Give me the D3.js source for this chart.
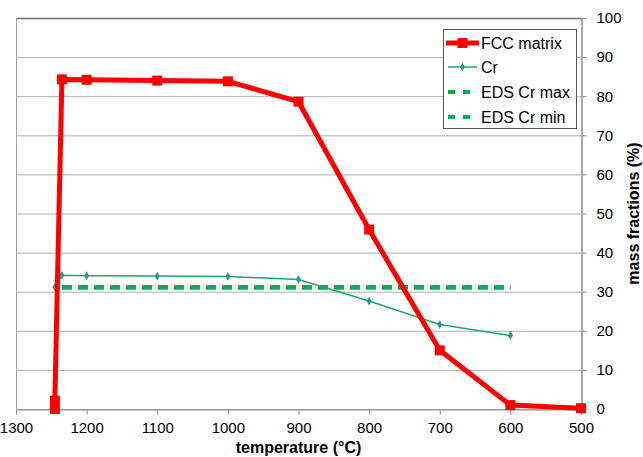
<!DOCTYPE html>
<html>
<head>
<meta charset="utf-8">
<script src="https://cdn.jsdelivr.net/npm/d3@7"></script>
<style>
  body { margin: 0; background: #fff; }
  svg { display: block; font-family: "Liberation Sans", Arial, sans-serif; }
</style>
</head>
<body>
<div id="chart"></div>
<script>
// data
const fccTemps = [1245, 1245, 1235, 1200, 1100, 1000, 900, 800, 700, 600, 500];
const fccValues = [0, 2.1, 84.3, 84.2, 84.0, 83.8, 78.6, 45.9, 15.0, 1.0, 0.2];

const crTemps = [1245, 1235, 1200, 1100, 1000, 900, 800, 700, 600];
const crValues = [31.2, 34.2, 34.1, 34.0, 33.9, 33.1, 27.6, 21.6, 18.8];

const edsTemps = [1235, 600];
const edsMax = [31.2, 31.2];
const edsMin = [31.0, 31.0];

const xTicks = [1300, 1200, 1100, 1000, 900, 800, 700, 600, 500];
const yTicks = [0, 10, 20, 30, 40, 50, 60, 70, 80, 90, 100];

const legendLabels = ['FCC matrix', 'Cr', 'EDS Cr max', 'EDS Cr min'];

const W = 643, H = 457;
const margin = { top: 18, right: 62, bottom: 48, left: 16 };
const width = W - margin.left - margin.right;
const height = H - margin.top - margin.bottom;

const svg = d3.select('#chart').append('svg')
    .attr('width', W)
    .attr('height', H);

const g = svg.append('g')
    .attr('transform', `translate(${margin.left},${margin.top})`);

const x = d3.scaleLinear().domain([1300, 500]).range([0, width]);
const y = d3.scaleLinear().domain([0, 100]).range([height, 0]);

// gridlines
g.append('g')
    .selectAll('line')
    .data(yTicks)
    .join('line')
    .attr('x1', 0)
    .attr('x2', width)
    .attr('y1', d => y(d) + 0.5)
    .attr('y2', d => y(d) + 0.5)
    .attr('stroke', d => d === 100 ? '#6e6e6e' : '#b0b0b0')
    .attr('stroke-width', d => d === 100 ? 1.5 : 1);

// left border
g.append('line')
    .attr('x1', 0.5).attr('x2', 0.5)
    .attr('y1', 0).attr('y2', height)
    .attr('stroke', '#a0a0a0');

// x axis
const xAxis = g.append('g')
    .attr('transform', `translate(0,${height + 0.5})`)
    .call(d3.axisBottom(x).tickValues(xTicks).tickFormat(d3.format('d'))
        .tickSize(5).tickSizeOuter(0).tickPadding(8));
xAxis.select('.domain').attr('stroke', '#8c8c8c');
xAxis.selectAll('.tick line').attr('stroke', '#8c8c8c');
xAxis.selectAll('.tick text')
    .attr('fill', '#000')
    .style('font-size', '15px');

g.append('text')
    .attr('x', width / 2)
    .attr('y', height + 44)
    .attr('text-anchor', 'middle')
    .style('font-size', '16px')
    .style('font-weight', 'bold')
    .text('temperature (°C)');

// right y axis
const yAxis = g.append('g')
    .attr('transform', `translate(${width + 0.5},0)`)
    .call(d3.axisRight(y).tickValues(yTicks).tickSize(5).tickSizeOuter(0).tickPadding(10));
yAxis.select('.domain').attr('stroke', '#8c8c8c').attr('stroke-width', 1.5);
yAxis.selectAll('.tick line').attr('stroke', '#8c8c8c');
yAxis.selectAll('.tick text')
    .attr('fill', '#000')
    .style('font-size', '15px');

g.append('text')
    .attr('transform', 'rotate(-90)')
    .attr('x', -height / 2)
    .attr('y', width + 58)
    .attr('text-anchor', 'middle')
    .style('font-size', '16px')
    .style('font-weight', 'bold')
    .text('mass fractions (%)');

// EDS dashed lines
const edsLine = d3.line()
    .x((d, i) => x(edsTemps[i]))
    .y(d => y(d));

[edsMax, edsMin].forEach(vals => {
    g.append('path')
        .datum(vals)
        .attr('fill', 'none')
        .attr('stroke', '#00b050')
        .attr('stroke-width', 4)
        .attr('stroke-dasharray', '10,6')
        .attr('d', edsLine);
});

// Cr line
const crLine = d3.line()
    .x((d, i) => x(crTemps[i]))
    .y(d => y(d));

g.append('path')
    .datum(crValues)
    .attr('fill', 'none')
    .attr('stroke', '#1fa66a')
    .attr('stroke-width', 1.5)
    .attr('d', crLine);

const diamond = d3.symbol().type(d3.symbolDiamond).size(22);
g.selectAll('.cr-pt')
    .data(crValues)
    .join('path')
    .attr('class', 'cr-pt')
    .attr('transform', (d, i) => `translate(${x(crTemps[i])},${y(d)})`)
    .attr('d', diamond)
    .attr('fill', '#2a9a8a');

// FCC matrix line
const fccLine = d3.line()
    .x((d, i) => x(fccTemps[i]))
    .y(d => y(d));

g.append('path')
    .datum(fccValues)
    .attr('fill', 'none')
    .attr('stroke', '#ff0000')
    .attr('stroke-width', 5)
    .attr('stroke-linejoin', 'round')
    .attr('d', fccLine);

g.selectAll('.fcc-pt')
    .data(fccValues)
    .join('rect')
    .attr('class', 'fcc-pt')
    .attr('x', (d, i) => x(fccTemps[i]) - 5)
    .attr('y', d => y(d) - 5)
    .attr('width', 10)
    .attr('height', 10)
    .attr('fill', '#ff0000');

// legend
const legend = svg.append('g').attr('transform', 'translate(443,29)');
legend.append('rect')
    .attr('x', 0.5).attr('y', 0.5)
    .attr('width', 133).attr('height', 99)
    .attr('fill', '#fff')
    .attr('stroke', '#555')
    .attr('stroke-width', 1);

const rowY = [14, 38, 63, 88];
legendLabels.forEach((label, i) => {
    const row = legend.append('g').attr('transform', `translate(0,${rowY[i]})`);
    if (i === 0) {
        row.append('line').attr('x1', 3).attr('x2', 36).attr('y1', 0).attr('y2', 0)
            .attr('stroke', '#ff0000').attr('stroke-width', 5);
        row.append('rect').attr('x', 14.5).attr('y', -5).attr('width', 10).attr('height', 10)
            .attr('fill', '#ff0000');
    } else if (i === 1) {
        row.append('line').attr('x1', 5).attr('x2', 34).attr('y1', 0).attr('y2', 0)
            .attr('stroke', '#1fa66a').attr('stroke-width', 1.5);
        row.append('path').attr('transform', 'translate(19.5,0)').attr('d', diamond)
            .attr('fill', '#2a9a8a');
    } else {
        row.append('line').attr('x1', 5).attr('x2', 34).attr('y1', 0).attr('y2', 0)
            .attr('stroke', '#00b050').attr('stroke-width', 4)
            .attr('stroke-dasharray', '7,8');
    }
    row.append('text')
        .attr('x', 38)
        .attr('y', 0)
        .attr('dy', '0.35em')
        .style('font-size', '16px')
        .text(label);
});
</script>
</body>
</html>
